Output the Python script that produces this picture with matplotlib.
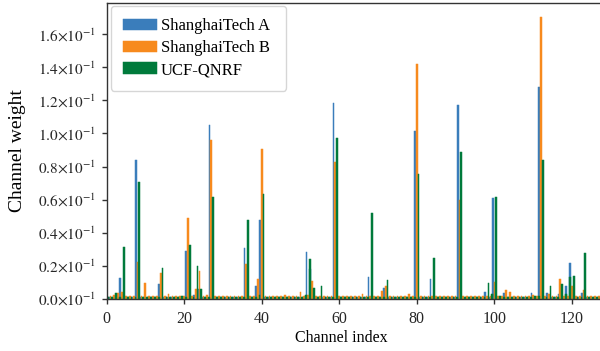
import numpy as np
import matplotlib
matplotlib.use("Agg")
import matplotlib.pyplot as plt
from matplotlib.ticker import FuncFormatter

plt.rcParams['font.family'] = ['Liberation Serif', 'DejaVu Serif']
plt.rcParams['mathtext.fontset'] = 'stix'

# channel weights per dataset, channels 0..127
shanghai_a = [
    .0012, .0012, .0012, .0012, .0127, .0012, .0012, .0012, .0839, .0012, .0012, .0012, .0012, .0012, .0092, .0012,
    .0012, .0012, .0012, .0012, .0012, .0290, .0012, .0025, .0060, .0012, .0012, .1050, .0012, .0012, .0012, .0012,
    .0012, .0012, .0012, .0012, .0310, .0012, .0012, .0078, .0477, .0012, .0012, .0012, .0012, .0012, .0012, .0012,
    .0012, .0012, .0012, .0012, .0286, .0180, .0012, .0012, .0012, .0012, .0012, .1184, .0012, .0012, .0012, .0012,
    .0012, .0012, .0012, .0012, .0135, .0012, .0012, .0012, .0064, .0012, .0012, .0012, .0012, .0012, .0012, .0012,
    .1014, .0012, .0012, .0012, .0120, .0012, .0012, .0012, .0012, .0012, .0012, .1170, .0012, .0012, .0012, .0012,
    .0012, .0012, .0044, .0012, .0612, .0012, .0012, .0038, .0012, .0012, .0012, .0012, .0012, .0012, .0036, .0012,
    .1280, .0012, .0038, .0012, .0012, .0032, .0012, .0078, .0220, .0012, .0012, .0038, .0012, .0012, .0012, .0012,
]
shanghai_b = [
    .0015, .0018, .0026, .0038, .0040, .0016, .0016, .0018, .0223, .0016, .0098, .0016, .0016, .0016, .0160, .0016,
    .0030, .0016, .0018, .0018, .0016, .0491, .0016, .0060, .0169, .0016, .0025, .0960, .0016, .0016, .0016, .0016,
    .0016, .0016, .0016, .0016, .0211, .0016, .0018, .0120, .0906, .0016, .0016, .0016, .0016, .0016, .0025, .0016,
    .0016, .0016, .0045, .0018, .0024, .0110, .0016, .0016, .0016, .0016, .0018, .0827, .0016, .0016, .0016, .0016,
    .0018, .0018, .0028, .0018, .0016, .0016, .0016, .0048, .0078, .0016, .0016, .0016, .0016, .0016, .0030, .0016,
    .1419, .0018, .0016, .0020, .0016, .0018, .0018, .0018, .0018, .0018, .0016, .0598, .0018, .0018, .0018, .0018,
    .0018, .0016, .0016, .0016, .0101, .0016, .0016, .0054, .0042, .0018, .0018, .0018, .0018, .0018, .0027, .0016,
    .1703, .0018, .0028, .0016, .0016, .0120, .0016, .0016, .0078, .0018, .0016, .0054, .0016, .0016, .0016, .0016,
]
ucf_qnrf = [
    .0012, .0012, .0038, .0012, .0316, .0012, .0012, .0012, .0708, .0012, .0012, .0012, .0012, .0012, .0187, .0012,
    .0012, .0012, .0012, .0018, .0012, .0326, .0012, .0201, .0060, .0012, .0012, .0616, .0012, .0012, .0012, .0012,
    .0012, .0012, .0012, .0012, .0477, .0012, .0012, .0024, .0634, .0012, .0012, .0012, .0012, .0012, .0012, .0012,
    .0012, .0012, .0012, .0024, .0241, .0068, .0012, .0078, .0012, .0012, .0012, .0972, .0012, .0012, .0012, .0012,
    .0012, .0012, .0012, .0012, .0521, .0012, .0012, .0012, .0115, .0012, .0012, .0012, .0012, .0012, .0012, .0012,
    .0755, .0012, .0012, .0012, .0250, .0012, .0012, .0012, .0012, .0012, .0012, .0888, .0012, .0012, .0012, .0012,
    .0012, .0012, .0098, .0030, .0618, .0020, .0012, .0012, .0012, .0012, .0012, .0012, .0012, .0012, .0020, .0020,
    .0839, .0012, .0078, .0012, .0012, .0090, .0030, .0135, .0140, .0012, .0012, .0278, .0012, .0012, .0012, .0012,
]
labels = ["ShanghaiTech A", "ShanghaiTech B", "UCF-QNRF"]
colors = ["#3a7dbb", "#f78a1d", "#007a3b"]

x = np.arange(len(shanghai_a))
w = 0.45

fig = plt.figure(figsize=(6, 3.51), dpi=100)
ax = fig.add_axes([106.5 / 600, 1 - 299 / 351, 496.5 / 600, 296 / 351])

for off, vals, c, lab in zip([-w, 0, w], [shanghai_a, shanghai_b, ucf_qnrf], colors, labels):
    ax.bar(x + off, vals, w, color=c, edgecolor=c, linewidth=0.35, label=lab)

ax.set_xlim(0, 128)
ax.set_ylim(0, 0.1788)
ax.set_yticks(np.arange(0, 0.17, 0.02))
ax.yaxis.set_major_formatter(FuncFormatter(lambda v, p: r'$%.1f{\times}10^{-1}$' % (v * 10)))
ax.set_xticks([0, 20, 40, 60, 80, 100, 120])

ax.tick_params(axis='both', direction='out', length=3.5, width=1, colors='0.2', labelcolor='0.15')
ax.tick_params(axis='y', labelsize=11, pad=4.5)
ax.tick_params(axis='x', labelsize=11.5, pad=5)
for s in ax.spines.values():
    s.set_color('0.2')
    s.set_linewidth(1)

ax.set_xlabel("Channel index", fontsize=11.5)
ax.xaxis.set_label_coords((341 - 106.5) / 496.5, -0.105)
ax.set_ylabel("Channel weight", fontsize=14, labelpad=8)

ax.legend(loc='upper left', mode='expand', bbox_to_anchor=(0.009, 0, 0.3525, 0.99),
          borderaxespad=0, fontsize=12, labelspacing=0.35, handletextpad=0.25,
          handlelength=2.0, borderpad=0.75, fancybox=True, edgecolor='0.8', framealpha=0.8)

fig.savefig("out.png", dpi=100)
